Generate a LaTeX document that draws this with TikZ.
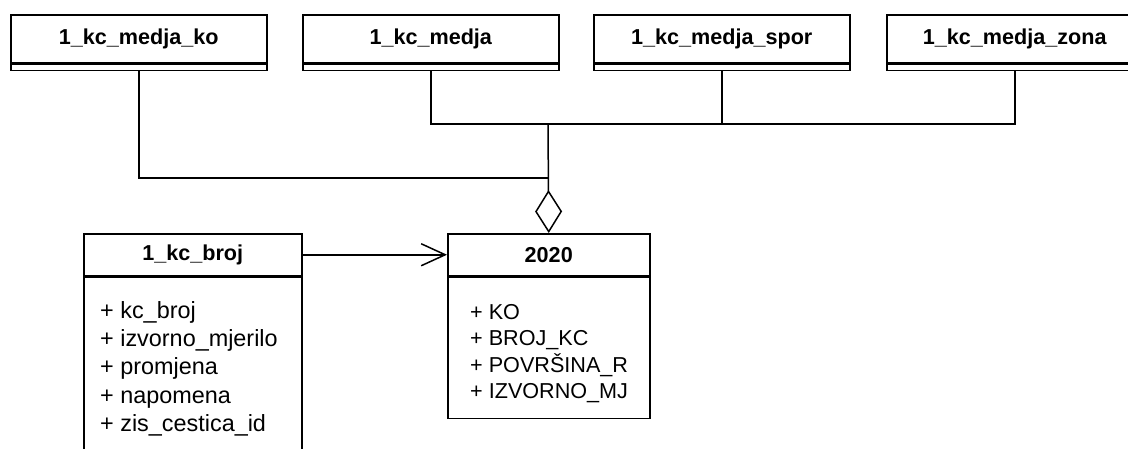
\documentclass[tikz,border=0pt]{standalone}
\usepackage{fontspec}
\setmainfont{Liberation Sans}
\usetikzlibrary{arrows.meta}
\tikzset{
  hdr/.style={draw, line width=1.5pt, inner sep=0pt, anchor=north west, font=\bfseries\fontsize{21.6}{26}\selectfont},
  strip/.style={draw, line width=1.5pt, inner sep=0pt, anchor=north, minimum width=256pt, minimum height=6pt},
  body/.style={draw, line width=1.5pt, inner sep=0pt, anchor=north west},
  attrL/.style={anchor=base west, inner sep=0pt, font=\fontsize{23.4}{28}\selectfont},
  attrR/.style={anchor=base west, inner sep=0pt, font=\fontsize{21.6}{26}\selectfont},
  conn/.style={line width=1.5pt},
}
\begin{document}
\begin{tikzpicture}[x=1pt,y=-1pt]
\useasboundingbox (0,0) rectangle (1128,448);
\clip (0,0) rectangle (1128,448);
\fill[white] (0,0) rectangle (1128,448);
% top classes
\node[hdr, minimum width=256pt, minimum height=48pt] (m1) at (10,14) {1\_kc\_medja\_ko};
\node[strip] (m1s) at (m1.south) {};
\node[hdr, minimum width=256pt, minimum height=48pt] (m2) at (302,14) {1\_kc\_medja};
\node[strip] (m2s) at (m2.south) {};
\node[hdr, minimum width=256pt, minimum height=48pt] (m3) at (593,14) {1\_kc\_medja\_spor};
\node[strip] (m3s) at (m3.south) {};
\node[hdr, minimum width=256pt, minimum height=48pt] (m4) at (886,14) {1\_kc\_medja\_zona};
\node[strip] (m4s) at (m4.south) {};
% 1_kc_broj
\node[hdr, minimum width=218pt, minimum height=42pt] (b) at (83,233) {1\_kc\_broj};
\node[body, minimum width=218pt, minimum height=190pt] (bb) at (b.south west) {};
\node[attrL] (a1) at (100,318) {+ kc\_broj};
\node[attrL] (a2) at (100,346.3) {+ izvorno\_mjerilo};
\node[attrL] (a3) at (100,374.6) {+ promjena};
\node[attrL] (a4) at (100,403) {+ napomena};
\node[attrL] (a5) at (100,431.3) {+ zis\_cestica\_id};
% 2020
\node[hdr, minimum width=202pt, minimum height=42pt] (t) at (447,233) {2020};
\node[body, minimum width=202pt, minimum height=141pt] (tb) at (t.south west) {};
\node[attrR] (c1) at (470,319.3) {+ KO};
\node[attrR] (c2) at (470,345.7) {+ BROJ\_KC};
\node[attrR] (c3) at (470,372) {+ POVRŠINA\_R};
\node[attrR] (c4) at (470,398.3) {+ IZVORNO\_MJ};
% connectors
\coordinate (hj) at (548,124);
\coordinate (j1) at (548,178);
\draw[conn] (m1s.south) |- (j1);
\draw[conn] (m2s.south) |- (hj);
\draw[conn] (m3s.south) -- (m3s.south |- hj);
\draw[conn] (m4s.south) |- (hj);
\draw[conn, -{Diamond[open, length=43pt, width=27pt, line width=1.5pt]}] (hj) -- (t.north);
\draw[conn, -{Straight Barb[length=24pt, width=22pt, line width=1.5pt]}] (b.east) -- (t.west);
\end{tikzpicture}
\end{document}
